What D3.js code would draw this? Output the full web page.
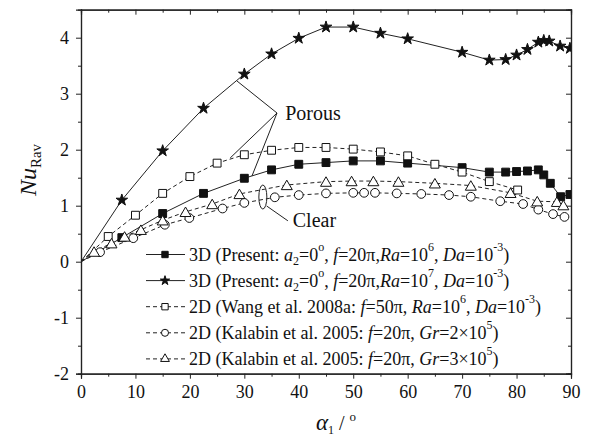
<!DOCTYPE html>
<html>
<head>
<meta charset="utf-8">
<script src="https://cdn.jsdelivr.net/npm/d3@7"></script>
<style>
  body { margin: 0; background: #fff; }
  svg { display: block; }
  text { font-family: "Liberation Serif", "Times New Roman", serif; fill: #111; }
</style>
</head>
<body>
<div id="chart"></div>
<script>
// alpha_1 (deg) and Nu_Rav for each series
var alphaSq3D = [0, 7.5, 15, 22.5, 30, 35, 40, 45, 50, 55, 60, 70, 75, 78, 80, 82, 84, 85, 86.2, 88.1, 89.8];
var nuSq3D    = [0, 0.43, 0.86, 1.22, 1.49, 1.64, 1.74, 1.77, 1.80, 1.80, 1.76, 1.68, 1.60, 1.60, 1.61, 1.62, 1.64, 1.55, 1.40, 1.16, 1.20];

var alphaStar3D = [0, 7.5, 15, 22.5, 30, 35, 40, 45, 50, 55, 60, 70, 75, 78, 80, 82, 84, 85, 86, 88, 89.8];
var nuStar3D    = [0, 1.10, 1.98, 2.74, 3.35, 3.71, 3.99, 4.19, 4.19, 4.08, 3.98, 3.74, 3.60, 3.61, 3.69, 3.79, 3.92, 3.95, 3.94, 3.85, 3.81];

var alphaWang = [0, 5, 10, 15, 20, 25, 30, 35, 40, 45, 50, 55, 60, 65, 70, 75, 80.2];
var nuWang    = [0, 0.45, 0.83, 1.22, 1.52, 1.76, 1.91, 1.99, 2.04, 2.04, 2.01, 1.96, 1.89, 1.74, 1.60, 1.43, 1.28];

var alphaKal2 = [0, 3.5, 9.6, 15.4, 19.9, 26, 30, 35.6, 40, 45, 50, 52, 54, 58, 62.5, 67.6, 71.6, 77, 81.2, 84, 86.7, 88.8];
var nuKal2    = [0, 0.17, 0.42, 0.66, 0.78, 0.95, 1.05, 1.15, 1.19, 1.22, 1.23, 1.23, 1.23, 1.22, 1.21, 1.19, 1.16, 1.08, 1.03, 0.93, 0.85, 0.80];

var alphaKal3 = [0, 2.4, 5.6, 8, 11, 15, 19.2, 24.1, 29.1, 37.8, 45, 49.7, 53.7, 58.3, 65, 71.6, 78.9, 83.8, 87.4, 88.6];
var nuKal3    = [0, 0.18, 0.33, 0.45, 0.57, 0.74, 0.89, 1.03, 1.21, 1.37, 1.43, 1.44, 1.44, 1.43, 1.40, 1.36, 1.23, 1.08, 1.07, 1.01];

var xTicks = [0, 10, 20, 30, 40, 50, 60, 70, 80, 90];
var yTicks = [-2, -1, 0, 1, 2, 3, 4];

var w = 592, h = 438;
var padL = 81, padR = 571, padT = 9.7, padB = 373.7;

var x = d3.scaleLinear().domain([0, 90]).range([padL, padR]);
var y = d3.scaleLinear().domain([-2, 4.5]).range([padB, padT]);

var svg = d3.select("#chart").append("svg")
    .attr("width", w)
    .attr("height", h);

svg.append("defs").append("clipPath").attr("id", "clip")
    .append("rect")
    .attr("x", padL).attr("y", padT)
    .attr("width", padR - padL).attr("height", padB - padT);

// axes
function styleAxis(g) {
    g.select(".domain").attr("stroke", "#222").attr("stroke-width", 1.2);
    g.selectAll(".tick line").attr("stroke", "#222").attr("stroke-width", 1);
    g.selectAll(".tick text").attr("font-size", 18).attr("fill", "#111");
}

var plain = function(d) { return String(d); };
var minorX = d3.range(5, 90, 10);
var minorY = d3.range(-1.5, 4.5, 1);

svg.append("g").attr("transform", "translate(0," + padB + ")")
    .call(d3.axisBottom(x).tickValues(minorX).tickSize(3).tickFormat(""))
    .call(styleAxis);
svg.append("g").attr("transform", "translate(0," + padB + ")")
    .call(d3.axisBottom(x).tickValues(xTicks).tickSize(5).tickPadding(7).tickFormat(plain))
    .call(styleAxis);
svg.append("g").attr("transform", "translate(0," + padT + ")")
    .call(d3.axisTop(x).tickValues(minorX).tickSize(-3).tickFormat(""))
    .call(styleAxis);
svg.append("g").attr("transform", "translate(0," + padT + ")")
    .call(d3.axisTop(x).tickValues(xTicks).tickSize(-5).tickFormat(""))
    .call(styleAxis);

svg.append("g").attr("transform", "translate(" + padL + ",0)")
    .call(d3.axisLeft(y).tickValues(minorY).tickSize(3).tickFormat(""))
    .call(styleAxis);
svg.append("g").attr("transform", "translate(" + padL + ",0)")
    .call(d3.axisLeft(y).tickValues(yTicks).tickSize(5).tickPadding(7).tickFormat(plain))
    .call(styleAxis);
svg.append("g").attr("transform", "translate(" + padR + ",0)")
    .call(d3.axisRight(y).tickValues(minorY).tickSize(-3).tickFormat(""))
    .call(styleAxis);
svg.append("g").attr("transform", "translate(" + padR + ",0)")
    .call(d3.axisRight(y).tickValues(yTicks).tickSize(-5).tickFormat(""))
    .call(styleAxis);

// series
var series = [
    { xs: alphaSq3D,   ys: nuSq3D,   dash: null,  sym: d3.symbolSquare,   size: 62, fill: "#111" },
    { xs: alphaStar3D, ys: nuStar3D, dash: null,  sym: d3.symbolStar,     size: 42, fill: "#111" },
    { xs: alphaWang,   ys: nuWang,   dash: "4,3", sym: d3.symbolSquare,   size: 62, fill: "#fff" },
    { xs: alphaKal2,   ys: nuKal2,   dash: "4,3", sym: d3.symbolCircle,   size: 60, fill: "#fff" },
    { xs: alphaKal3,   ys: nuKal3,   dash: "4,3", sym: d3.symbolTriangle, size: 52, fill: "#fff" }
];

var line = d3.line()
    .x(function(d) { return x(d[0]); })
    .y(function(d) { return y(d[1]); });

var plot = svg.append("g").attr("clip-path", "url(#clip)");

series.forEach(function(s) {
    var pts = s.xs.map(function(v, i) { return [v, s.ys[i]]; });
    plot.append("path")
        .datum(pts)
        .attr("fill", "none")
        .attr("stroke", "#222")
        .attr("stroke-width", 1)
        .attr("stroke-dasharray", s.dash)
        .attr("d", line);
});

series.forEach(function(s) {
    var pts = s.xs.map(function(v, i) { return [v, s.ys[i]]; });
    plot.selectAll(null)
        .data(pts.slice(1))
        .enter()
        .append("path")
        .attr("transform", function(d) {
            var dy = s.sym === d3.symbolTriangle ? 1.5 : 0;
            return "translate(" + x(d[0]) + "," + (y(d[1]) + dy) + ")";
        })
        .attr("d", d3.symbol().type(s.sym).size(s.size))
        .attr("fill", s.fill)
        .attr("stroke", "#111")
        .attr("stroke-width", 1);
});

// annotations
var porousAt = [36.0, 2.655];
var porousTargets = [[28.65, 3.227], [27.4, 1.852], [31.4, 1.53]];
porousTargets.forEach(function(t) {
    svg.append("line")
        .attr("x1", x(porousAt[0])).attr("y1", y(porousAt[1]))
        .attr("x2", x(t[0])).attr("y2", y(t[1]))
        .attr("stroke", "#222").attr("stroke-width", 1);
});
svg.append("text")
    .attr("x", x(37.5)).attr("y", y(2.53))
    .attr("font-size", 20)
    .text("Porous");

svg.append("ellipse")
    .attr("cx", x(33.4)).attr("cy", y(1.155))
    .attr("rx", 4).attr("ry", 12)
    .attr("fill", "none").attr("stroke", "#222").attr("stroke-width", 1);
svg.append("line")
    .attr("x1", x(34.1)).attr("y1", y(0.995))
    .attr("x2", x(38.0)).attr("y2", y(0.73))
    .attr("stroke", "#222").attr("stroke-width", 1);
svg.append("text")
    .attr("x", x(38.9)).attr("y", y(0.62))
    .attr("font-size", 20)
    .text("Clear");

// legend
var legendText = [
    [["3D (Present: "], ["a", "i"], ["2", "sub"], ["=0"], ["o", "sup"], [", "], ["f", "i"], ["=20π,"], ["Ra", "i"], ["=10"], ["6", "sup"], [", "], ["Da", "i"], ["=10"], ["-3", "sup"], [")"]],
    [["3D (Present: "], ["a", "i"], ["2", "sub"], ["=0"], ["o", "sup"], [", "], ["f", "i"], ["=20π,"], ["Ra", "i"], ["=10"], ["7", "sup"], [", "], ["Da", "i"], ["=10"], ["-3", "sup"], [")"]],
    [["2D (Wang et al. 2008a: "], ["f", "i"], ["=50π, "], ["Ra", "i"], ["=10"], ["6", "sup"], [", "], ["Da", "i"], ["=10"], ["-3", "sup"], [")"]],
    [["2D (Kalabin et al. 2005: "], ["f", "i"], ["=20π, "], ["Gr", "i"], ["=2×10"], ["5", "sup"], [")"]],
    [["2D (Kalabin et al. 2005: "], ["f", "i"], ["=20π, "], ["Gr", "i"], ["=3×10"], ["5", "sup"], [")"]]
];

var legend = svg.append("g");
legendText.forEach(function(parts, i) {
    var s = series[i];
    var ly = 254.5 + i * 26.1;
    legend.append("line")
        .attr("x1", 146).attr("x2", 185)
        .attr("y1", ly).attr("y2", ly)
        .attr("stroke", "#222").attr("stroke-width", 1)
        .attr("stroke-dasharray", s.dash);
    legend.append("path")
        .attr("transform", "translate(165," + ly + ")")
        .attr("d", d3.symbol().type(s.sym).size(s.size * 0.65))
        .attr("fill", s.fill)
        .attr("stroke", "#111").attr("stroke-width", 1);

    var t = legend.append("text")
        .attr("x", 189).attr("y", ly + 6.5)
        .attr("font-size", 18);
    var shift = 0;
    parts.forEach(function(p) {
        var span = t.append("tspan").text(p[0]);
        var want = 0;
        if (p[1] === "i") span.attr("font-style", "italic");
        if (p[1] === "sub") { span.attr("font-size", 12); want = 4; }
        if (p[1] === "sup") { span.attr("font-size", 12); want = -10; }
        if (want !== shift) { span.attr("dy", want - shift); shift = want; }
    });
});

// axis titles
var yl = svg.append("text")
    .attr("transform", "translate(36,170) rotate(-90)")
    .attr("text-anchor", "middle");
yl.append("tspan").attr("font-size", 24).attr("font-style", "italic").text("Nu");
yl.append("tspan").attr("font-size", 15).attr("dy", 5).text("Rav");

var xl = svg.append("text")
    .attr("x", 336).attr("y", 430)
    .attr("text-anchor", "middle");
xl.append("tspan").attr("font-size", 23).attr("font-style", "italic").text("α");
xl.append("tspan").attr("font-size", 12).attr("dy", 4).text("1");
xl.append("tspan").attr("font-size", 20).attr("dy", -4).text(" / ");
xl.append("tspan").attr("font-size", 13).attr("dy", -9).text("o");
</script>
</body>
</html>
